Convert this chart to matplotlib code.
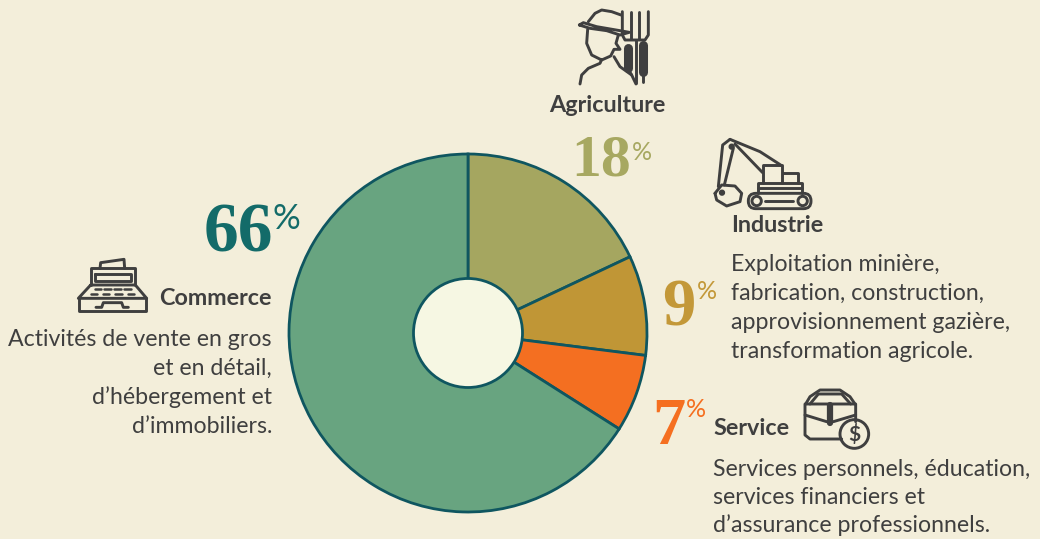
"""
Pie chart of employment share by sector, with hand-drawn line icons.
"""

import matplotlib
matplotlib.use("Agg")
import matplotlib.pyplot as plt
from matplotlib.patches import Circle, FancyBboxPatch

# Data
sectors = ["Agriculture", "Industrie", "Service", "Commerce"]
shares = [18, 9, 7, 66]
slice_colors = ["#A5A660", "#C09636", "#F46F21", "#68A480"]
share_colors = ["#A7A861", "#C39838", "#F56F20", "#136B69"]
industrie_lines = ["Exploitation minière,", "fabrication, construction,",
                   "approvisionnement gazière,", "transformation agricole."]
service_lines = ["Services personnels, éducation,", "services financiers et",
                 "d’assurance professionnels."]
commerce_lines = ["Activités de vente en gros", "et en détail,",
                  "d’hébergement et", "d’immobiliers."]

BG = "#F3EEDA"
EDGE = "#0F5660"
INK = "#3F3F3F"
W, H = 1040, 539
CX, CY, R = 468, 333, 179

fig = plt.figure(figsize=(W / 100, H / 100), dpi=100, facecolor=BG)

# Pie axes, placed in pixels
pad = 184
pie_ax = fig.add_axes([(CX - pad) / W, (H - CY - pad) / H, 2 * pad / W, 2 * pad / H])
pie_ax.pie(shares, colors=slice_colors, startangle=90, counterclock=False, radius=1,
           wedgeprops={"edgecolor": EDGE, "linewidth": 2.0})
pie_ax.add_patch(Circle((0, 0), 54.5 / R, facecolor="#F6F7E3", edgecolor=EDGE,
                        linewidth=2.0, zorder=5))
pie_ax.set_xlim(-pad / R, pad / R)
pie_ax.set_ylim(-pad / R, pad / R)
pie_ax.set_aspect("equal")
pie_ax.axis("off")

# Overlay in pixel coordinates for text and icons
ax = fig.add_axes([0, 0, 1, 1])
ax.set_xlim(0, W)
ax.set_ylim(H, 0)
ax.axis("off")
ax.patch.set_alpha(0)


def share_label(value, color, x, y, size, pct_x, pct_y, pct_size):
    ax.text(x, y, str(value), color=color, fontsize=size, fontweight="bold",
            family="Liberation Serif", ha="right", va="baseline")
    ax.text(pct_x, pct_y, "%", color=color, fontsize=pct_size, fontweight="normal",
            family="Lato", ha="left", va="baseline")


def body(lines, x, y, ha="left", step=29):
    for i, line in enumerate(lines):
        ax.text(x, y + i * step, line, color=INK, fontsize=16.7, family="Lato",
                ha=ha, va="baseline")


def heading(name, x, y, ha="left"):
    ax.text(x, y, name, color=INK, fontsize=16.8, fontweight="bold", family="Lato",
            ha=ha, va="baseline")


def stroke(pts, ox, oy, lw=2.1):
    xs = [ox + p[0] / 3 for p in pts]
    ys = [oy + p[1] / 3 for p in pts]
    ax.plot(xs, ys, color=INK, lw=lw, solid_capstyle="round", solid_joinstyle="round")


def ring(x, y, r, ox, oy, lw=2.1, fill="none"):
    ax.add_patch(Circle((ox + x / 3, oy + y / 3), r / 3, facecolor=fill,
                        edgecolor=INK, linewidth=lw))


# Farmer icon
ox, oy = 540, 0
stroke([(145, 65), (165, 40), (185, 30), (215, 35), (243, 45)], ox, oy)
stroke([(118, 75), (130, 68), (170, 80), (240, 92), (268, 97), (240, 105),
        (200, 92), (150, 85), (118, 75)], ox, oy)
stroke([(143, 88), (140, 130), (155, 165), (185, 180), (212, 168), (222, 148),
        (240, 148), (228, 130), (235, 105)], ox, oy)
stroke([(120, 252), (125, 225), (145, 205), (180, 190), (185, 178)], ox, oy)
stroke([(222, 170), (240, 200), (275, 225), (288, 252)], ox, oy)
stroke([(247, 35), (247, 105), (255, 120), (315, 120), (325, 105), (325, 35)], ox, oy)
stroke([(272, 35), (272, 118)], ox, oy)
stroke([(298, 35), (298, 118)], ox, oy)
stroke([(288, 120), (288, 250)], ox, oy)
stroke([(263, 145), (263, 205)], ox, oy, lw=6.5)
stroke([(263, 205), (275, 225)], ox, oy)
stroke([(310, 135), (310, 215)], ox, oy, lw=6.5)
stroke([(310, 215), (310, 245)], ox, oy)

# Excavator icon
stroke([(570, 418), (660, 455), (722, 495)], ox, oy)
stroke([(585, 432), (668, 518)], ox, oy)
stroke([(570, 418), (548, 435), (535, 560)], ox, oy)
stroke([(580, 445), (553, 555)], ox, oy)
ring(575, 440, 5, ox, oy, fill=INK)
stroke([(525, 580), (545, 555), (585, 558), (605, 580), (600, 605), (560, 618),
        (530, 600), (525, 580)], ox, oy)
ring(546, 578, 5, ox, oy, fill=INK)
stroke([(670, 548), (670, 495), (727, 495), (727, 548)], ox, oy)
stroke([(730, 518), (775, 518), (775, 548)], ox, oy)
stroke([(655, 578), (655, 548), (785, 548), (785, 578)], ox, oy)
stroke([(655, 565), (785, 565)], ox, oy)
ax.add_patch(FancyBboxPatch((ox + 625 / 3, oy + 580 / 3), 188 / 3, 46 / 3,
                            boxstyle="round,pad=0,rounding_size=7.5",
                            facecolor=BG, edgecolor=INK, linewidth=2.1))
ring(650, 603, 14, ox, oy)
ring(788, 603, 14, ox, oy)
stroke([(675, 603), (760, 603)], ox, oy)

# Cash register icon
ox, oy = 60, 190
stroke([(120, 235), (122, 218), (192, 208), (194, 235)], ox, oy)
stroke([(92, 285), (92, 235), (226, 235), (226, 285)], ox, oy)
stroke([(105, 252), (212, 252), (212, 274), (105, 274), (105, 252)], ox, oy)
stroke([(92, 285), (226, 285), (260, 325), (55, 325), (92, 285)], ox, oy)
stroke([(57, 325), (57, 362), (258, 362), (258, 325)], ox, oy)
stroke([(108, 352), (125, 352), (130, 338), (185, 338), (190, 352), (205, 352)], ox, oy)
for x0, x1 in [(105, 122), (133, 152), (163, 182), (193, 212)]:
    stroke([(x0, 298), (x1, 298)], ox, oy, lw=1.8)
for x0, x1 in [(92, 110), (128, 148), (165, 185), (203, 222)]:
    stroke([(x0, 313), (x1, 313)], ox, oy, lw=1.8)

# Briefcase icon
ox, oy = 640, 380
stroke([(497, 72), (510, 50), (540, 30), (600, 30), (630, 50), (645, 72)], ox, oy)
stroke([(510, 72), (535, 42), (605, 42), (632, 72)], ox, oy)
stroke([(605, 177), (510, 177), (495, 165), (495, 72), (647, 72), (647, 125)], ox, oy)
stroke([(495, 105), (560, 125), (580, 125), (647, 105)], ox, oy)
stroke([(570, 75), (570, 130)], ox, oy, lw=4.5)
ring(643, 162, 43, ox, oy, fill=BG)
ax.text(ox + 643 / 3, oy + 163 / 3, "$", color=INK, fontsize=15, fontweight="bold",
        family="Lato", ha="center", va="center")

# Labels
share_label(shares[0], share_colors[0], 631, 176, 43, 632, 160, 18)
share_label(shares[1], share_colors[1], 696, 326, 48, 697, 299, 18)
share_label(shares[2], share_colors[2], 685, 444, 48, 686, 417, 18)
share_label(shares[3], share_colors[3], 273, 252, 50, 272, 229, 25)

heading(sectors[0], 607.5, 112, ha="center")
heading(sectors[1], 731, 232)
heading(sectors[2], 713, 435)
heading(sectors[3], 159, 305)

body(industrie_lines, 731, 271)
body(service_lines, 713, 476, step=28)
body(commerce_lines, 272, 346, ha="right")

fig.savefig("out.png", dpi=100, facecolor=BG)
plt.close(fig)
